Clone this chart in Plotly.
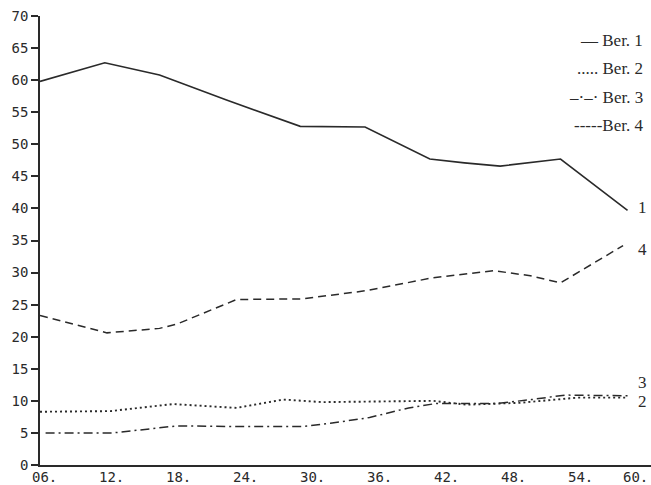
import plotly.graph_objects as go

# ---- data ----
tick_years = [6, 12, 18, 24, 30, 36, 42, 48, 54, 60]
tick_labels = ["06.", "12.", "18.", "24.", "30.", "36.", "42.", "48.", "54.", "60."]
y_ticks = [0, 5, 10, 15, 20, 25, 30, 35, 40, 45, 50, 55, 60, 65, 70]

ber1_x = [6, 11.8, 16.7, 22.7, 29.3, 35.1, 40.9, 44.0, 47.2, 50.0, 52.6, 58.6]
ber1_y = [59.8, 62.7, 60.8, 56.9, 52.8, 52.7, 47.7, 47.1, 46.6, 47.2, 47.7, 39.7]

ber2_x = [6, 12.3, 17.9, 23.6, 27.8, 31.3, 36.0, 41.2, 44.2, 49.0, 54.1, 58.6]
ber2_y = [8.3, 8.4, 9.5, 8.9, 10.2, 9.8, 9.9, 10.0, 9.4, 9.7, 10.5, 10.5]

ber3_x = [6.5, 12.5, 18.3, 23.0, 29.5, 32.0, 35.5, 39.0, 41.5, 47.0, 50.0, 53.0, 58.6]
ber3_y = [5.0, 5.0, 6.1, 6.0, 6.0, 6.5, 7.4, 8.9, 9.6, 9.6, 10.2, 10.9, 10.8]

ber4_x = [6, 12, 16.7, 18.3, 23.6, 29.5, 35.3, 41.2, 46.6, 49.9, 52.6, 58.2]
ber4_y = [23.3, 20.6, 21.3, 22.0, 25.8, 25.9, 27.2, 29.2, 30.3, 29.5, 28.4, 34.2]

end_labels = ["1", "4", "3", "2"]
end_label_y = [40.2, 33.6, 12.8, 9.9]

legend_texts = ["— Ber. 1", "..... Ber. 2", "–·–· Ber. 3", "-----Ber. 4"]

INK = "#2a2a2a"
series = [
    (ber1_x, ber1_y, "solid", 1.6),
    (ber2_x, ber2_y, "2px,3px", 1.9),
    (ber3_x, ber3_y, "9px,4px,2px,4px", 1.5),
    (ber4_x, ber4_y, "8px,5px", 1.5),
]

fig = go.Figure()
for xs, ys, dash, w in series:
    fig.add_trace(go.Scatter(x=xs, y=ys, mode="lines",
                             line=dict(color=INK, width=w, dash=dash),
                             showlegend=False, hoverinfo="skip"))

for t, yv in zip(end_labels, end_label_y):
    fig.add_annotation(x=59.9, y=yv, xref="x", yref="y", text=t, showarrow=False,
                       font=dict(family="Liberation Serif", size=17, color=INK),
                       xanchor="center", yanchor="middle")

# x tick labels as text placed at the tick years (digits centred on the year)
for i, (xv, t) in enumerate(zip(tick_years, tick_labels)):
    last = i == len(tick_years) - 1
    fig.add_annotation(x=xv, y=0, xref="x", yref="paper", text=t, showarrow=False,
                       font=dict(family="DejaVu Sans Mono", size=14, color=INK),
                       xanchor="right" if last else "center", yanchor="top",
                       xshift=7 if last else 4, yshift=-2)

W, H, L, T, B = 651, 485, 40, 16, 20
legend_py = [40, 68, 97, 126]
for t, py in zip(legend_texts, legend_py):
    fig.add_annotation(x=(645 - L) / (W - L), y=(H - B - py) / (H - T - B),
                       xref="paper", yref="paper", text=t, showarrow=False,
                       font=dict(family="Liberation Serif", size=17, color=INK),
                       xanchor="right", yanchor="middle")

fig.update_layout(
    width=W, height=H,
    margin=dict(l=L, r=0, t=T, b=B),
    paper_bgcolor="white", plot_bgcolor="white",
    xaxis=dict(range=[6, 60.7], tickvals=tick_years, showticklabels=False,
               showgrid=False, zeroline=False, showline=True, linecolor=INK,
               linewidth=1.6, ticks=""),
    yaxis=dict(range=[0, 70], tickvals=y_ticks, showgrid=False, zeroline=False,
               showline=True, linecolor=INK, linewidth=1.6, ticks="outside",
               ticklen=7, tickwidth=1.5, tickcolor=INK,
               tickfont=dict(family="DejaVu Sans Mono", size=14, color=INK)),
)

fig.write_html("out.html", config={"displayModeBar": False},
               post_script="document.body.style.margin='0';document.body.style.overflow='hidden';")
